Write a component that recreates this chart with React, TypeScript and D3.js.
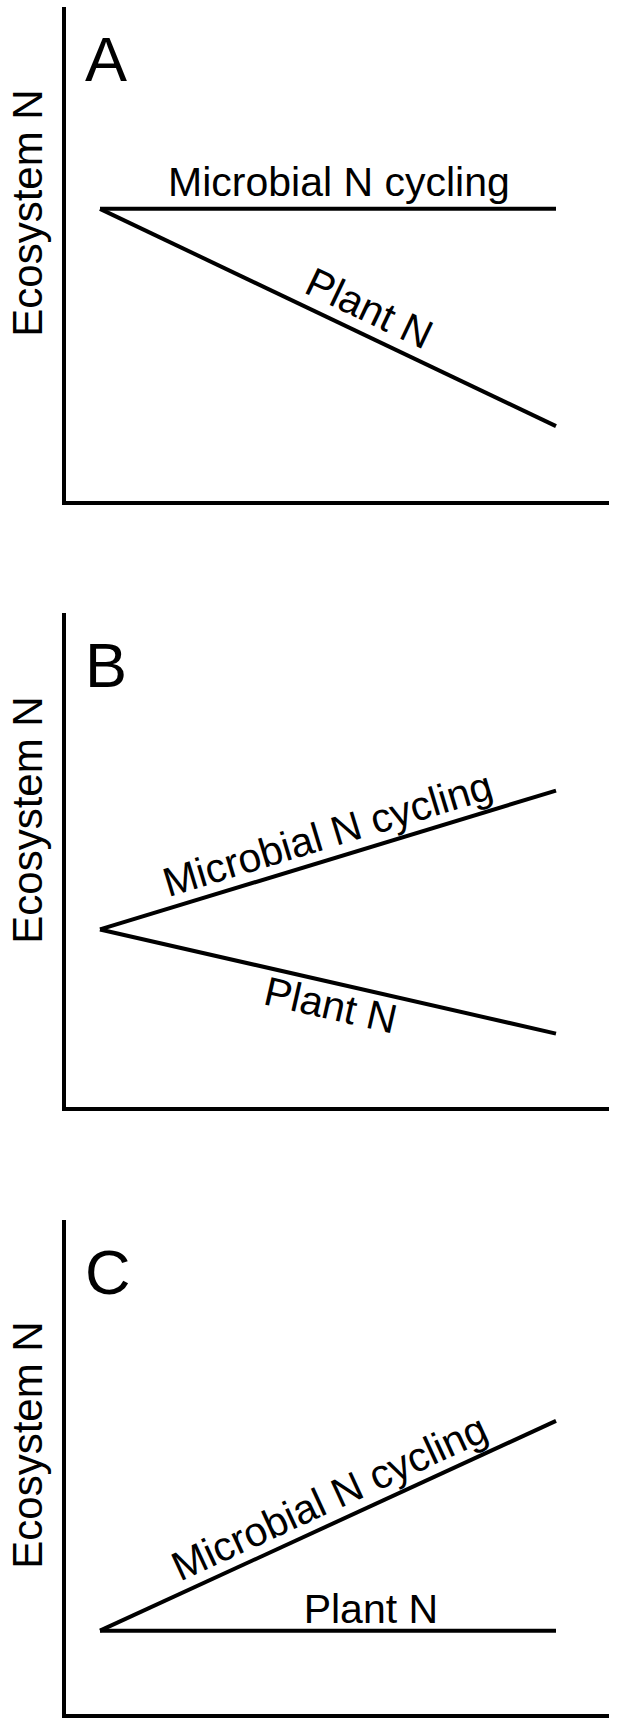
import React from "react";
import * as d3 from "d3";

// ---- data ----
const panels = ["A", "B", "C"];
const time = [0, 100];
const microbialA = [59.3, 59.3];
const plantA = [59.3, 15.5];
const microbialB = [36.2, 64.2];
const plantB = [36.2, 15.2];
const microbialC = [17.2, 59.5];
const plantC = [17.2, 17.2];
const seriesNames = ["Microbial N cycling", "Plant N"];
const yAxisTitle = "Ecosystem N";
// label anchor position along time axis, and baseline offset (+ above / - below)
const labelAtA = [52.4, 56.6];
const labelOffA = [13, 12];
const labelAtB = [51.5, 51.7];
const labelOffB = [11, -36.5];
const labelAtC = [52.6, 59.4];
const labelOffC = [11, 8];

const W = 617;
const H = 1729;
const panelTops = [7, 613, 1220];
const yTitleOffsets = [206, 207, 225];
const panelH = 496;
const axisLeft = 64;
const axisRight = 609;
const FONT = "'Liberation Sans', Arial, Helvetica, sans-serif";

const panelData = [
  { micro: microbialA, plant: plantA, at: labelAtA, off: labelOffA },
  { micro: microbialB, plant: plantB, at: labelAtB, off: labelOffB },
  { micro: microbialC, plant: plantC, at: labelAtC, off: labelOffC },
];

function Panel({ idx }: { idx: number }) {
  const top = panelTops[idx];
  const bottom = top + panelH;
  const x = d3.scaleLinear().domain([0, 100]).range([100, 556]);
  const y = d3.scaleLinear().domain([0, 100]).range([bottom, top]);
  const pd = panelData[idx];
  const series = [pd.micro, pd.plant];
  const line = d3
    .line<[number, number]>()
    .x((d) => x(d[0]))
    .y((d) => y(d[1]));

  return (
    <g>
      <path
        d={`M${axisLeft},${top}L${axisLeft},${bottom}L${axisRight},${bottom}`}
        fill="none"
        stroke="#000"
        strokeWidth={4}
        strokeLinejoin="miter"
      />
      <text x={85} y={top + 74} fontSize={63} fontFamily={FONT} fill="#000">
        {panels[idx]}
      </text>
      <text
        transform={`translate(42,${top + yTitleOffsets[idx]}) rotate(-90)`}
        textAnchor="middle"
        fontSize={42}
        fontFamily={FONT}
        fill="#000"
      >
        {yAxisTitle}
      </text>
      {series.map((vals, si) => {
        const pts: [number, number][] = time.map((t, i) => [t, vals[i]]);
        const x0 = x(time[0]), y0 = y(vals[0]);
        const x1 = x(time[1]), y1 = y(vals[1]);
        const ang = Math.atan2(y1 - y0, x1 - x0);
        const interp = d3.scaleLinear().domain(time).range(vals);
        const lx = x(pd.at[si]);
        const ly = y(interp(pd.at[si]));
        const off = pd.off[si];
        const nx = Math.sin(ang) * off;
        const ny = -Math.cos(ang) * off;
        return (
          <g key={si}>
            <path
              d={line(pts) || ""}
              fill="none"
              stroke="#000"
              strokeWidth={4}
            />
            <text
              transform={`translate(${lx + nx},${ly + ny}) rotate(${(ang * 180) / Math.PI})`}
              textAnchor="middle"
              fontSize={41}
              fontFamily={FONT}
              fill="#000"
            >
              {seriesNames[si]}
            </text>
          </g>
        );
      })}
    </g>
  );
}

export default function App() {
  return (
    <svg
      width={W}
      height={H}
      viewBox={`0 0 ${W} ${H}`}
      style={{ position: "absolute", left: 0, top: 0, background: "#fff" }}
    >
      <rect width={W} height={H} fill="#fff" />
      {panels.map((p, i) => (
        <Panel key={p} idx={i} />
      ))}
    </svg>
  );
}
